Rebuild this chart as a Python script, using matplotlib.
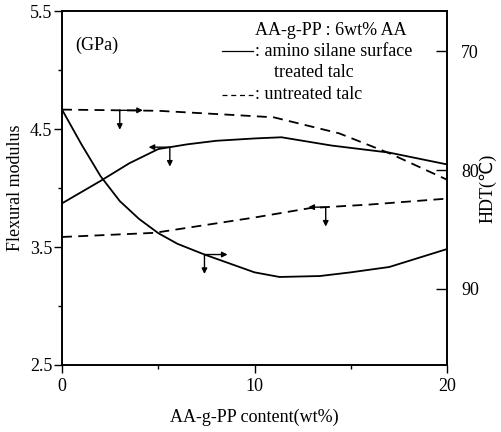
import matplotlib
matplotlib.use("Agg")
from matplotlib import pyplot as plt
from matplotlib.transforms import offset_copy
import numpy as np

plt.rcParams['font.family'] = ['Liberation Serif', 'DejaVu Sans']

# flexural modulus (GPa), left axis
x_mod_treated = [0, 2, 3.5, 5.0, 6.5, 8, 10, 11.4, 14, 17, 20]
mod_treated = [3.87, 4.06, 4.21, 4.33, 4.37, 4.40, 4.42, 4.43, 4.36, 4.30, 4.20]
x_mod_untreated = [0, 4.8, 10, 12.9, 16, 20]
mod_untreated = [3.585, 3.62, 3.75, 3.83, 3.86, 3.91]

# HDT (C), right axis (inverted)
x_hdt_treated = [0, 1, 2, 3, 4, 5, 6, 7.4, 10, 11.3, 13.4, 15, 17, 20]
hdt_treated = [74.9, 77.8, 80.5, 82.6, 84.1, 85.3, 86.2, 87.1, 88.6,
               88.99, 88.91, 88.6, 88.15, 86.64]
x_hdt_untreated = [0, 5, 9.2, 11, 14.4, 17, 20]
hdt_untreated = [74.9, 75.0, 75.38, 75.55, 76.9, 78.57, 80.8]

fig = plt.figure(figsize=(5.01, 4.32), dpi=100)
ax = fig.add_axes([0.1238, 0.1551, 0.7684, 0.8194])
ax2 = ax.twinx()

dash = (0, (5.5, 3.5))
lw = 1.3
ax.plot(x_mod_treated, mod_treated, color='black', lw=lw)
ax.plot(x_mod_untreated, mod_untreated, color='black', lw=lw, linestyle=dash)
ax2.plot(x_hdt_treated, hdt_treated, color='black', lw=lw)
ax2.plot(x_hdt_untreated, hdt_untreated, color='black', lw=lw, linestyle=dash)

ax.set_xlim(0, 20)
ax.set_ylim(2.5, 5.5)
ax2.set_ylim(96.4, 66.6)

ax.set_xticks([0, 10, 20])
ax.set_xticks([5, 15], minor=True)
ax.set_yticks([2.5, 3.5, 4.5, 5.5])
ax.set_yticks([3.0, 4.0, 5.0], minor=True)
ax2.set_yticks([70, 80, 90])

ax.tick_params(which='major', direction='out', length=6, width=1, labelsize=13)
ax.tick_params(which='minor', direction='out', length=3, width=1)
ax.tick_params(axis='y', pad=1)
ax2.tick_params(direction='in', length=8, width=1, labelsize=13, pad=10)

for a in (ax, ax2):
    for s in a.spines.values():
        s.set_linewidth(1.2)

ax.set_xlabel('AA-g-PP content(wt%)', fontsize=13, labelpad=10)
ax.set_ylabel('Flexural modulus', fontsize=13, labelpad=4)
ax2.set_ylabel('HDT(℃)', fontsize=13, labelpad=0, rotation=90)

ax.text(0.034, 0.904, '(GPa)', transform=ax.transAxes, fontsize=13, va='center')

# legend block
ax.text(0.50, 0.946, 'AA-g-PP : 6wt% AA', transform=ax.transAxes, fontsize=13, va='center')
ax.plot([0.416, 0.496], [0.887, 0.887], transform=ax.transAxes, color='black', lw=0.9)
ax.text(0.502, 0.887, ': amino silane surface', transform=ax.transAxes, fontsize=13, va='center')
ax.text(0.55, 0.825, 'treated talc', transform=ax.transAxes, fontsize=13, va='center')
ax.plot([0.416, 0.496], [0.763, 0.763], transform=ax.transAxes, color='black', lw=0.9,
        linestyle=(0, (4, 3)))
ax.text(0.502, 0.763, ': untreated talc', transform=ax.transAxes, fontsize=13, va='center')

# arrows telling which axis each curve belongs to
arrow = dict(arrowstyle='-|>', color='black', lw=1, mutation_scale=8, shrinkA=0, shrinkB=0)


def indicator(a, xs, ys, xc, dx):
    yc = np.interp(xc, xs, ys)
    a.annotate('', xy=(xc + dx, yc), xytext=(xc, yc), arrowprops=arrow)
    down = offset_copy(a.transData, fig=fig, x=0, y=-14, units='points')
    a.annotate('', xy=(xc, yc), xycoords=down, xytext=(xc, yc), textcoords=a.transData,
               arrowprops=arrow)


indicator(ax2, x_hdt_untreated, hdt_untreated, 3.0, 1.2)
indicator(ax, x_mod_treated, mod_treated, 5.6, -1.1)
indicator(ax2, x_hdt_treated, hdt_treated, 7.4, 1.2)
indicator(ax, x_mod_untreated, mod_untreated, 13.7, -0.9)

fig.savefig('out.png', dpi=100)
